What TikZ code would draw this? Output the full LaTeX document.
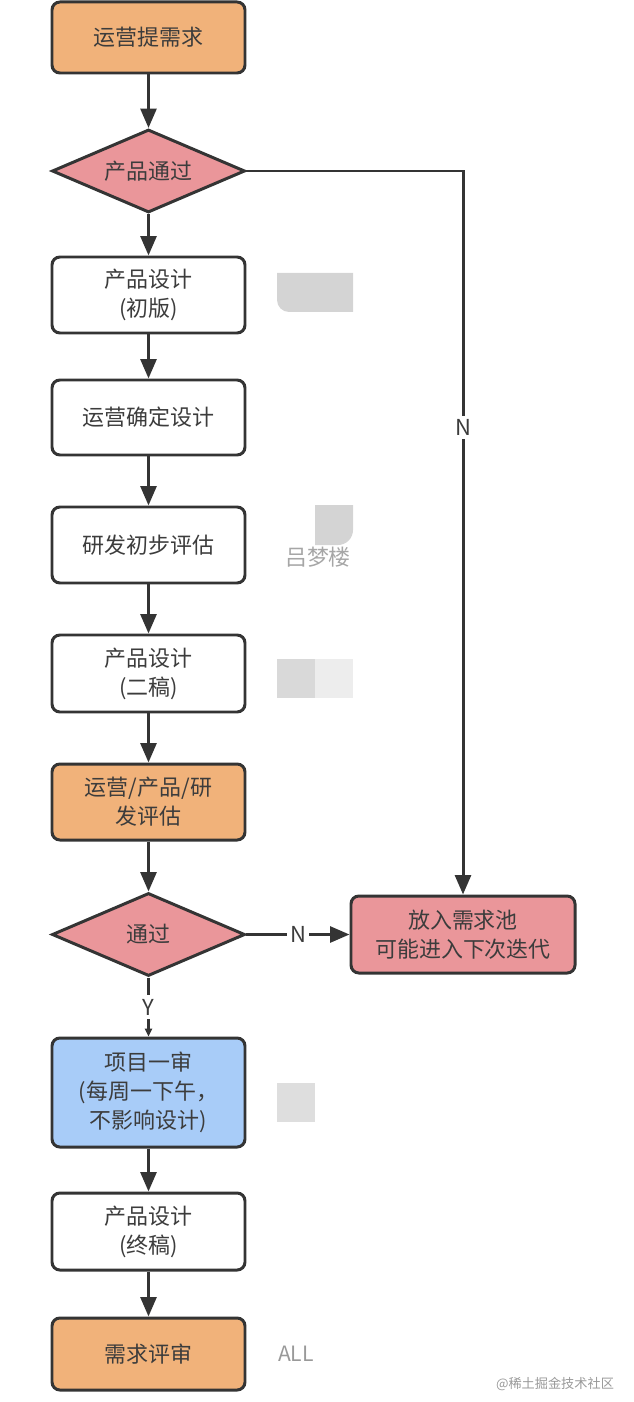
\documentclass[tikz,border=0pt]{standalone}
\usepackage{fontspec}
\setmainfont{Noto Sans CJK SC}
\usepackage{tikz}
\usetikzlibrary{
	arrows.meta,
	positioning,
	shapes.geometric,
	calc
}

\definecolor{laranja}{RGB}{241,178,122}
\definecolor{rosa}{RGB}{234,150,154}
\definecolor{azul}{RGB}{168,204,248}
\definecolor{linha}{RGB}{52,52,52}
\definecolor{texto}{RGB}{60,60,60}

\begin{document}
\begin{tikzpicture}[
			font=\fontsize{12.5}{16.5}\selectfont,
			text=texto,
			caixa/.style={draw=linha, line width=1.7pt, rounded corners=4.5pt, align=center, fill=white, minimum width=3.86cm, minimum height=1.5cm, inner sep=3pt},
			decisao/.style={draw=linha, line width=1.7pt, diamond, aspect=2.33, align=center, fill=rosa, minimum width=3.86cm, minimum height=1.66cm, inner sep=0pt},
			rotulo/.style={fill=white, inner sep=2pt},
			>={Triangle[width=9pt,length=11pt]},
			fl/.style={->, draw=linha, line width=1.7pt}
		]

		\useasboundingbox (0,0) rectangle (12.68,-28.04);

		\node[caixa, fill=laranja, minimum height=1.42cm] (pedido) at (2.97,-0.75) {运营提需求};
		\node[decisao] (prodok) at (2.97,-3.42) {产品通过};
		\node[caixa, minimum height=1.52cm] (design1) at (2.97,-5.90) {产品设计\\(初版)};
		\node[caixa] (confirma) at (2.97,-8.35) {运营确定设计};
		\node[caixa, minimum height=1.52cm] (avalia1) at (2.97,-10.90) {研发初步评估};
		\node[caixa, minimum height=1.54cm] (design2) at (2.97,-13.47) {产品设计\\(二稿)};
		\node[caixa, fill=laranja, minimum height=1.52cm] (avalia2) at (2.97,-16.04) {运营/产品/研\\发评估};
		\node[decisao] (passou) at (2.97,-18.69) {通过};
		\node[caixa, fill=azul, minimum height=2.18cm] (revisao) at (2.97,-21.85) {项目一审\\(每周一下午，\\不影响设计)};
		\node[caixa, minimum height=1.54cm] (design3) at (2.97,-24.63) {产品设计\\(终稿)};
		\node[caixa, fill=laranja, minimum height=1.44cm] (final) at (2.97,-27.08) {需求评审};

		\node[caixa, fill=rosa, minimum width=4.48cm, minimum height=1.54cm] (pool) at (9.26,-18.69) {放入需求池\\可能进入下次迭代};

		\draw[fl] (pedido) -- (prodok);
		\draw[fl] (prodok) -- (design1);
		\draw[fl] (design1) -- (confirma);
		\draw[fl] (confirma) -- (avalia1);
		\draw[fl] (avalia1) -- (design2);
		\draw[fl] (design2) -- (avalia2);
		\draw[fl] (avalia2) -- (passou);
		\draw[fl] (revisao) -- (design3);
		\draw[fl] (design3) -- (final);
		\draw[fl] (prodok.east) -| node[rotulo, pos=0.677] {N} (pool.north);
		\draw[fl] (passou.east) -- node[rotulo, pos=0.5] {N} (pool.west);
		\draw[draw=linha, line width=1.7pt, -{Triangle[width=4pt,length=4.5pt]}] (passou.south) -- node[rotulo, pos=0.5] {Y} (revisao.north);

		% blocos cinzentos e marcas
		\fill[black!17] (7.06,-5.46) -- (5.54,-5.46) -- (5.54,-6.0) arc[start angle=180, end angle=270, radius=0.24] -- (7.06,-6.24) -- cycle;
		\fill[black!17] (6.3,-10.1) -- (7.06,-10.1) -- (7.06,-10.6) arc[start angle=0, end angle=-90, radius=0.3] -- (6.3,-10.9) -- cycle;
		\node[text=black!35] (autor) at (6.36,-11.14) {吕梦楼};
		\fill[black!15] (5.54,-13.18) rectangle (6.3,-13.96);
		\fill[black!7] (6.3,-13.18) rectangle (7.06,-13.96);
		\fill[black!13] (5.54,-21.66) rectangle (6.3,-22.44);
		\node[text=black!40, font=\fontsize{12}{14}\selectfont] (todos) at (5.92,-27.08) {ALL};
		\node[text=black!40, font=\fontsize{7.5}{9}\selectfont] (marca) at (11.1,-27.68) {@稀土掘金技术社区};
	\end{tikzpicture}
\end{document}
